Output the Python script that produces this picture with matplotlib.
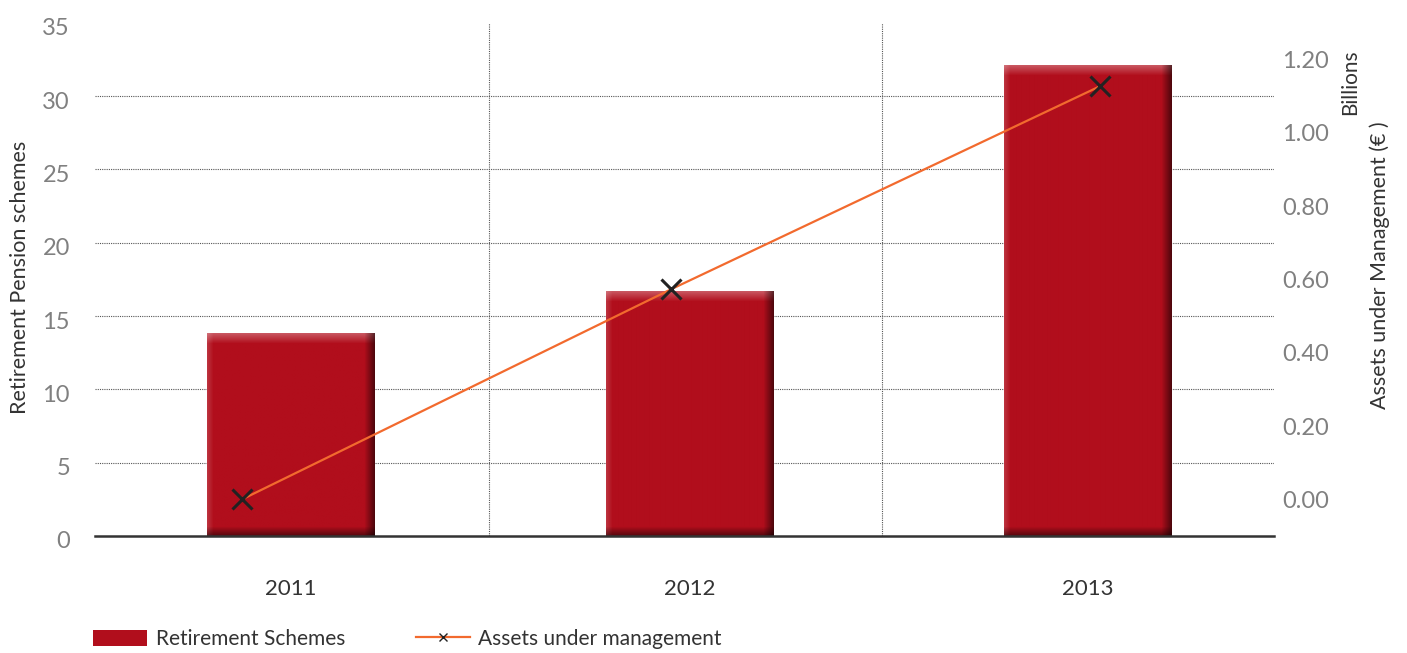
import matplotlib
matplotlib.use("Agg")
import matplotlib.pyplot as plt
import matplotlib.transforms as mtransforms
import numpy as np
from matplotlib.colors import to_rgb
from matplotlib.lines import Line2D

plt.rcParams["font.family"] = ["Lato", "DejaVu Sans"]

years = ["2011", "2012", "2013"]
schemes = [13.8, 16.7, 32.1]          # number of retirement pension schemes
assets_bn = [0.0, 0.573, 1.127]       # assets under management, EUR billions

BAR_RED = "#b10e1c"
LINE_ORANGE = "#f26a2e"
GRID = "#555555"
TICK_GRAY = "#808080"
TEXT_DARK = "#333333"


def shade_bar(ax, x0, x1, top, color):
    """Overlay a bevelled look on a bar: light top/left rim, dark right/bottom rim."""
    p0 = ax.transData.transform((x0, 0))
    p1 = ax.transData.transform((x1, top))
    w = max(int(round(p1[0] - p0[0])), 2)
    h = max(int(round(p1[1] - p0[1])), 2)
    img = np.tile(np.array(to_rgb(color)), (h, w, 1))
    yy = np.arange(h)[:, None, None]
    xx = np.arange(w)[None, :, None]
    top_t = np.clip(1 - yy / 10.0, 0, 1)
    left_t = np.clip(1 - xx / 6.0, 0, 1)
    right_t = np.clip(1 - (w - 1 - xx) / 10.0, 0, 1)
    bot_t = np.clip(1 - (h - 1 - yy) / 9.0, 0, 1)
    img = img + (1 - img) * 0.30 * top_t
    img = img + (1 - img) * 0.15 * left_t
    img = img * (1 - 0.55 * right_t)
    img = img * (1 - 0.50 * bot_t)
    ax.imshow(np.clip(img, 0, 1), extent=(x0, x1, 0, top), aspect="auto",
              interpolation="bilinear", zorder=2)


fig = plt.figure(figsize=(14.07, 6.53), dpi=100)
rect = [95 / 1407, 1 - 536 / 653, (1274 - 95) / 1407, (536 - 22.8) / 653]
ax = fig.add_axes(rect)

x = np.arange(len(years))
bar_w = 0.42
ax.set_xlim(-0.492, 2.467)
ax.set_ylim(0, 35)

bars = ax.bar(x, schemes, width=bar_w, color=BAR_RED, zorder=2,
              label="Retirement Schemes")
for xi, val in zip(x, schemes):
    shade_bar(ax, xi - bar_w / 2, xi + bar_w / 2, val, BAR_RED)
ax.set_xlim(-0.492, 2.467)
ax.set_ylim(0, 35)

# dotted grid: horizontal at each major step, vertical between categories
for yv in range(5, 35, 5):
    ax.axhline(yv, color=GRID, lw=0.8, ls=(0, (1, 1)), zorder=1)
for xv in (0.497, 1.483):
    ax.axvline(xv, color=GRID, lw=0.8, ls=(0, (1, 1)), zorder=1)

ax.set_yticks(range(0, 40, 5))
ax.set_xticks(x)
ax.set_xticklabels(years)
ax.tick_params(axis="y", length=0, pad=18, labelsize=17, labelcolor=TICK_GRAY)
ax.tick_params(axis="x", length=0, pad=31, labelsize=16, labelcolor=TEXT_DARK)
shift = mtransforms.ScaledTranslation(0, -4 / 100, fig.dpi_scale_trans)
for lab in ax.get_yticklabels():
    lab.set_transform(lab.get_transform() + shift)

for side in ("top", "left", "right"):
    ax.spines[side].set_visible(False)
ax.spines["bottom"].set_color(TEXT_DARK)
ax.spines["bottom"].set_linewidth(1.8)
ax.spines["bottom"].set_zorder(3)

# secondary value axis on the right
ax2 = ax.twinx()
ax2.set_ylim(-0.1, 1.3)
ax2.set_yticks(np.arange(0, 1.21, 0.2))
ax2.set_yticklabels([f"{v:.2f}" for v in np.arange(0, 1.21, 0.2)])
ax2.tick_params(axis="y", length=0, pad=6, labelsize=17, labelcolor=TICK_GRAY)
for s in ax2.spines.values():
    s.set_visible(False)

# secondary category axis for the line series
ax3 = ax2.twiny()
ax3.set_xlim(-0.3427, 2.4056)
ax3.set_xticks([])
for s in ax3.spines.values():
    s.set_visible(False)
ax3.plot(x, assets_bn, color=LINE_ORANGE, lw=1.6, marker="x",
         markersize=15, markeredgecolor="#222222", markeredgewidth=2.2, zorder=4)

fig.text(20 / 1407, 1 - 277 / 653, "Retirement Pension schemes", rotation=90,
         ha="center", va="center", fontsize=15.5, color=TEXT_DARK)
fig.text(1380 / 1407, 1 - 265 / 653, "Assets under Management (€ )", rotation=90,
         ha="center", va="center", fontsize=15.5, color=TEXT_DARK)
fig.text(1350 / 1407, 1 - 82 / 653, "Billions", rotation=90,
         ha="center", va="center", fontsize=15, color=TEXT_DARK)

line_key = Line2D([], [], color=LINE_ORANGE, lw=1.6, marker="x", markersize=6,
                  markeredgecolor="#222222", markeredgewidth=1.0)
fig.legend([bars, line_key], ["Retirement Schemes", "Assets under management"],
           loc="center left", bbox_to_anchor=(93 / 1407, 1 - 639 / 653),
           ncol=2, frameon=False, fontsize=15, handlelength=2.6,
           handleheight=0.8, handletextpad=0.4, columnspacing=3.4,
           borderpad=0, borderaxespad=0, labelcolor=TEXT_DARK)

fig.savefig("out.png", dpi=100)
